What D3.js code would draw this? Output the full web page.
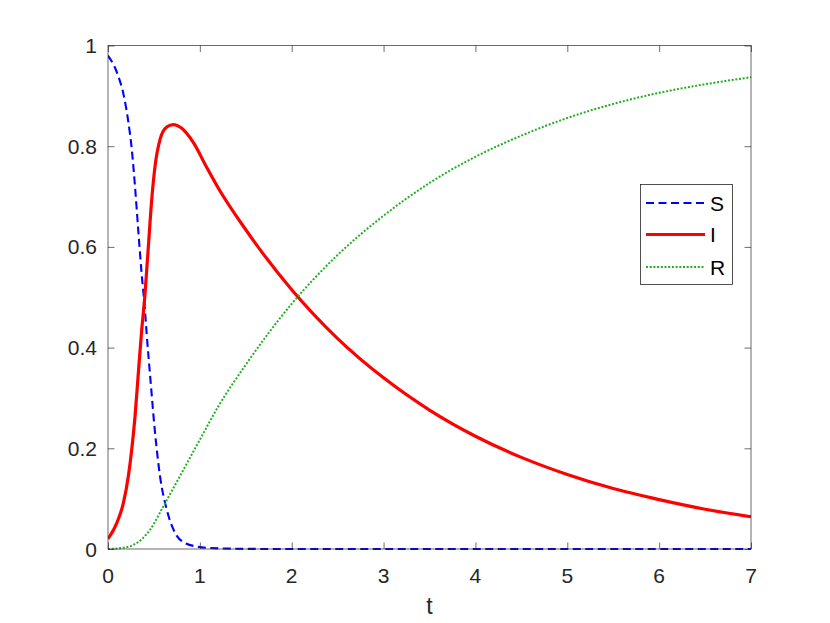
<!DOCTYPE html>
<html><head><meta charset="utf-8">
<script src="https://cdn.jsdelivr.net/npm/d3@7"></script>
<style>body{margin:0;background:#fff;}</style>
</head><body><svg id="c" width="830" height="623"></svg>
<script>
// Data
const sT = [0,0.1,0.17,0.22,0.26,0.294,0.33,0.367,0.40,0.42,0.465,0.51,0.566,0.64,0.75,0.85,0.966,1.1,1.5,2,3,4,5,6,7];
const sV = [0.98,0.945,0.902,0.85,0.792,0.72,0.632,0.545,0.48,0.43,0.33,0.235,0.145,0.078,0.026,0.011,0.005,0.002,0.0003,0,0,0,0,0,0];
const iT = [0,0.094,0.167,0.221,0.258,0.294,0.33,0.367,0.40,0.439,0.476,0.512,0.566,0.639,0.711,0.80,0.93,1.074,1.2,1.5,2,2.5,3,3.5,4,4.5,5,5.5,6,6.5,7];
const iV = [0.02,0.051,0.091,0.144,0.197,0.263,0.349,0.435,0.50,0.60,0.694,0.76,0.813,0.838,0.843,0.836,0.807,0.758,0.717,0.634,0.515,0.418,0.340,0.276,0.224,0.182,0.148,0.120,0.098,0.079,0.064];
const rT = [0,0.15,0.276,0.457,0.60,0.82,1.0,1.2,1.5,2,2.5,3,3.5,4,4.5,5,5.5,6,6.5,7];
const rV = [0,0.002,0.008,0.038,0.084,0.157,0.217,0.283,0.366,0.487,0.584,0.662,0.727,0.779,0.821,0.856,0.884,0.906,0.923,0.937];
const xTicks = [0,1,2,3,4,5,6,7];
const yTicks = [0,0.2,0.4,0.6,0.8,1];
const yTickLabels = ["0","0.2","0.4","0.6","0.8","1"];
const seriesNames = ["S","I","R"];
const xLabel = "t";

const svg = d3.select("#c");
const L=108, R=751, T=45.5, B=549;
const x = d3.scaleLinear().domain([0,7]).range([L,R]);
const y = d3.scaleLinear().domain([0,1]).range([B,T]);
const axisCol = "#262626";
const tl = 6.5;
const fontFam = "Liberation Sans";

svg.append("defs").append("clipPath").attr("id","clip").append("rect")
  .attr("x",L).attr("y",T-2).attr("width",R-L+1).attr("height",B-T+4);

const styles = [
  {t:sT,v:sV,color:"#0000ff",w:2.1,dash:"8,4.5"},
  {t:iT,v:iV,color:"#ff0000",w:3.2,dash:null},
  {t:rT,v:rV,color:"#22b022",w:2,dash:"2,1.7"}
];
const line = d3.line().curve(d3.curveMonotoneX);
const plot = svg.append("g").attr("clip-path","url(#clip)");

svg.append("rect").attr("x",L).attr("y",T).attr("width",R-L).attr("height",B-T)
  .attr("fill","none").attr("stroke",axisCol).attr("stroke-width",0.8).attr("opacity",0.85);

const xb = d3.axisBottom(x).tickValues(xTicks).tickSizeInner(-tl).tickSizeOuter(0).tickFormat("");
const xa = svg.append("g").attr("transform",`translate(0,${B})`).call(xb);
const xt = d3.axisTop(x).tickValues(xTicks).tickSizeInner(-tl).tickSizeOuter(0).tickFormat("");
const xa2 = svg.append("g").attr("transform",`translate(0,${T})`).call(xt);
const yl = d3.axisLeft(y).tickValues(yTicks).tickSizeInner(-tl).tickSizeOuter(0).tickFormat("");
const ya = svg.append("g").attr("transform",`translate(${L},0)`).call(yl);
const yr = d3.axisRight(y).tickValues(yTicks).tickSizeInner(-tl).tickSizeOuter(0).tickFormat("");
const ya2 = svg.append("g").attr("transform",`translate(${R},0)`).call(yr);
[xa,xa2,ya,ya2].forEach(a=>{
  a.select(".domain").remove();
  a.selectAll(".tick line").attr("stroke",axisCol).attr("stroke-width",0.8).attr("opacity",0.85);
  a.selectAll(".tick text").remove();
});

// tick labels
const labs = svg.append("g").attr("font-family",fontFam).attr("font-size",21).attr("fill",axisCol);
labs.selectAll(".xl").data(xTicks).join("text").attr("class","xl")
  .attr("x",d=>x(d)).attr("y",583).attr("text-anchor","middle").text(d=>d);
labs.selectAll(".yl").data(yTicks).join("text").attr("class","yl")
  .attr("x",97).attr("y",d=>y(d)+7.5).attr("text-anchor","end").text((d,i)=>yTickLabels[i]);

styles.forEach(s=>{
  const pts = s.t.map((t,i)=>[x(t),y(s.v[i])]);
  const p = plot.append("path").attr("d",line(pts)).attr("fill","none")
    .attr("stroke",s.color).attr("stroke-width",s.w).attr("stroke-linejoin","round");
  if(s.dash) p.attr("stroke-dasharray",s.dash);
});

svg.append("text").attr("x",(L+R)/2).attr("y",614).attr("text-anchor","middle")
  .attr("font-size",23).attr("font-family",fontFam).attr("fill",axisCol).text(xLabel);

const lg = svg.append("g");
lg.append("rect").attr("x",640.5).attr("y",184.5).attr("width",92).attr("height",100)
  .attr("fill","#fff").attr("stroke",axisCol).attr("stroke-width",0.8);
const ly = [203,234.5,267];
styles.forEach((s,i)=>{
  const l = lg.append("line").attr("x1",646).attr("x2",705).attr("y1",ly[i]).attr("y2",ly[i])
    .attr("stroke",s.color).attr("stroke-width",s.w);
  if(s.dash) l.attr("stroke-dasharray",s.dash);
  lg.append("text").attr("x",710).attr("y",ly[i]+7.5).attr("font-size",21)
    .attr("font-family",fontFam).attr("fill","#000").text(seriesNames[i]);
});
</script></body></html>
